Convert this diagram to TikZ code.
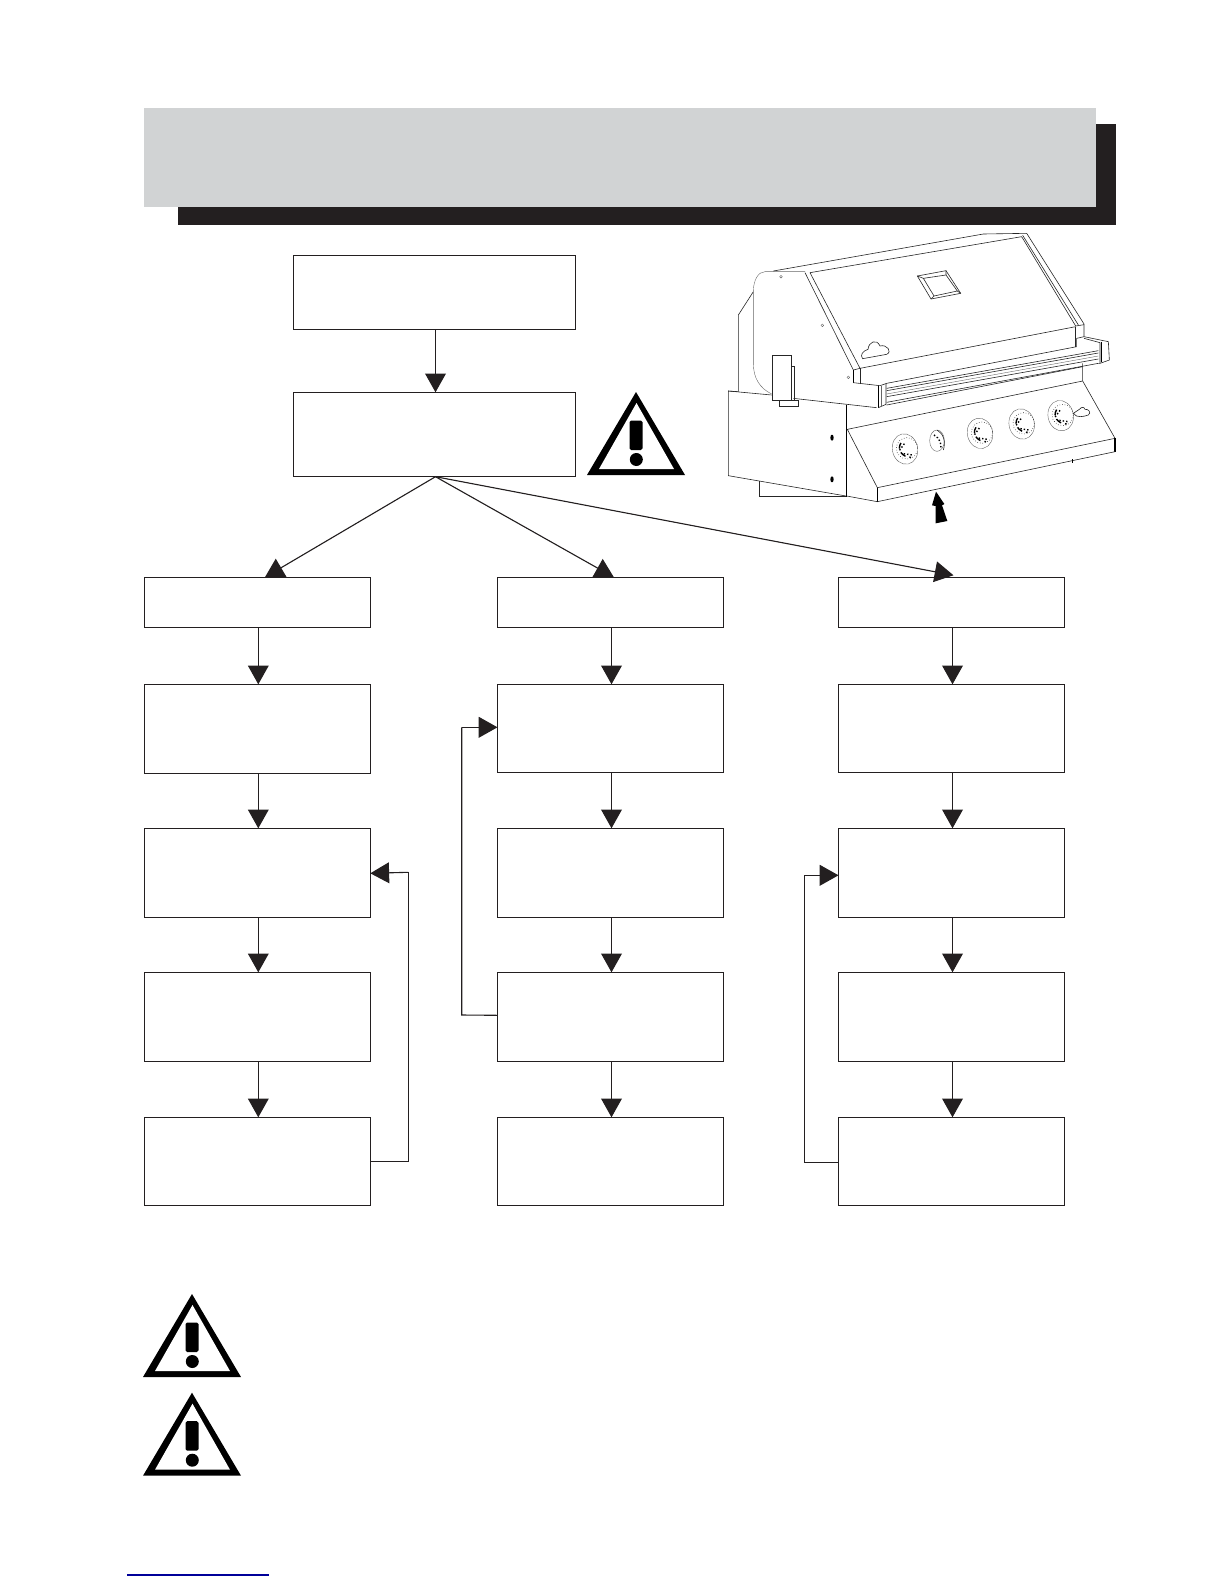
\documentclass[tikz,border=0pt]{standalone}
\usepackage{xcolor}
\usetikzlibrary{positioning, arrows.meta}

\definecolor{inkblack}{HTML}{231F20}
\definecolor{bannergray}{HTML}{D1D3D4}
\definecolor{linkblue}{HTML}{000099}

\begin{document}
\begin{tikzpicture}[
    x=0.5pt, y=-0.5pt,
    >={Triangle[length=9.4pt, width=10.4pt]},
    stepbox/.style={draw=inkblack, line width=0.55pt, rectangle, inner sep=0pt, outer sep=0pt, minimum width=113pt},
    smallbox/.style={stepbox, minimum height=25pt},
    tallbox/.style={stepbox, minimum height=44.5pt},
    headbox/.style={draw=inkblack, line width=0.55pt, rectangle, inner sep=0pt, outer sep=0pt, minimum width=141.2pt},
    arr/.style={->, draw=inkblack, fill=inkblack, line width=0.55pt},
    loopline/.style={draw=inkblack, line width=0.55pt},
    grill/.style={line width=0.3pt, draw=black!85},
    grillfine/.style={line width=0.2pt, draw=black!60},
    grillbold/.style={line width=0.7pt, draw=black},
    warnsign/.pic={
        \fill[black] (0,0) -- (49,83) -- (-49,83) -- cycle;
        \fill[white] (0.5,11) -- (38,77) -- (-37,77) -- cycle;
        \fill[black, rounded corners=0.8pt] (-6.5,28.5) rectangle (6.5,58);
        \fill[black] (0.3,67.5) circle (6.5);
    }
]
\useasboundingbox (0,0) rectangle (1224,1584);

% Banner with its shadow
\fill[inkblack] (178,124) rectangle (1116,225);
\fill[bannergray] (144,108) rectangle (1096,206.7);

% Two boxes on top
\node[headbox, minimum height=37pt] (start) at (434.5,292.3) {};
\node[headbox, minimum height=42.2pt] (check) at (434.5,434.5) {};

% Left column
\node[smallbox] (a1) at (257.3,602.3) {};
\node[tallbox] (a2) at (257.3,728.8) {};
\node[tallbox] (a3) at (257.3,872.8) {};
\node[tallbox] (a4) at (257.3,1016.8) {};
\node[tallbox, minimum height=44pt] (a5) at (257.3,1161.3) {};

% Middle column
\node[smallbox] (b1) at (610.5,602.3) {};
\node[tallbox, minimum height=44pt] (b2) at (610.5,728.3) {};
\node[tallbox] (b3) at (610.5,872.8) {};
\node[tallbox] (b4) at (610.5,1016.8) {};
\node[tallbox, minimum height=44pt] (b5) at (610.5,1161.3) {};

% Right column
\node[smallbox] (c1) at (951.5,602.3) {};
\node[tallbox, minimum height=44pt] (c2) at (951.5,728.3) {};
\node[tallbox] (c3) at (951.5,872.8) {};
\node[tallbox] (c4) at (951.5,1016.8) {};
\node[tallbox, minimum height=44pt] (c5) at (951.5,1161.3) {};

% Straight arrows
\draw[arr] ([xshift=0.5pt]start.south) -- ([xshift=0.5pt]check.north);
\foreach \col in {a,b,c} {
    \draw[arr] ([xshift=0.5pt]\col1.south) -- ([xshift=0.5pt]\col2.north);
    \draw[arr] ([xshift=0.5pt]\col2.south) -- ([xshift=0.5pt]\col3.north);
    \draw[arr] ([xshift=0.5pt]\col3.south) -- ([xshift=0.5pt]\col4.north);
    \draw[arr] ([xshift=0.5pt]\col4.south) -- ([xshift=0.5pt]\col5.north);
}

% Arrows that fan out of the second box
\draw[arr] ([xshift=0.5pt]check.south) -- ([xshift=3.8pt]a1.north);
\draw[arr] ([xshift=0.5pt]check.south) -- ([xshift=1.7pt]b1.north);
\draw[arr] ([xshift=0.5pt]check.south) -- ([xshift=1pt, yshift=1pt]c1.north);

% Loops back up
\coordinate (aout) at ([yshift=0pt]a5.east);
\coordinate (ain) at ([yshift=-0.25pt]a3.east);
\coordinate (bout) at ([yshift=0.75pt]b4.west);
\coordinate (bin) at ([yshift=0.5pt]b2.west);
\coordinate (cout) at ([yshift=-0.5pt]c5.west);
\coordinate (cin) at ([yshift=-1.25pt]c3.west);
\draw[loopline] (aout) -- (408.3,1161.3) -- (408.3,872.3);
\draw[arr] (408.3,872.3) -- (ain);
\draw[loopline] (bout) -- (461.7,1015) -- (461.7,727.3);
\draw[arr] (461.7,727.3) -- (bin);
\draw[loopline] (cout) -- (804.7,1162.3) -- (804.7,875.3);
\draw[arr] (804.7,875.3) -- (cin);

% Warning signs
\pic at (636,392) {warnsign};
\pic at (192,1294) {warnsign};
\pic at (192,1392.7) {warnsign};

% Link line at the bottom
\draw[linkblue, line width=0.55pt] (127,1575) -- (269,1575);

% Grill, traced in the coordinates of a 3x crop
\begin{scope}[shift={(710,220)}, x=0.16667pt, y=-0.16667pt]
    % lid
    \draw[grill] (85,515) -- (85,285) -- (130,215);
    \draw[grillfine] (130,215) .. controls (130,180) and (145,155) .. (165,155) -- (285,155);
    \draw[grillfine] (130,215) -- (130,430) .. controls (130,475) and (150,505) .. (185,522);
    \draw[grill] (190,153) -- (820,42) -- (950,40) -- (1122,312) -- (1122,350);
    \draw[grill] (300,158) -- (935,50) -- (1097,318);
    \draw[grill] (285,158) -- (430,450);
    \draw[grill] (300,158) -- (450,445) -- (1097,320);
    \draw[grill] (938,46) -- (1105,315);
    \draw[grill] (1097,318) -- (1122,314);
    \draw[grill] (1097,320) -- (1097,380);
    \draw[grill] (430,450) -- (450,445);
    \draw[grillbold] (430,450) -- (430,488);
    \draw[grill] (450,445) -- (450,488);
    % vent on the lid
    \draw[grill] (622,168) -- (708,152) -- (752,220) -- (663,237) -- cycle;
    \draw[grill] (640,175) -- (708,165) -- (742,213) -- (672,228) -- cycle;
    \draw[grill] (622,168) -- (640,175) (708,152) -- (708,165) (752,220) -- (742,213) (663,237) -- (672,228);
    % badge on the lid
    \draw[grill] (458,416) .. controls (448,405) and (460,392) .. (474,388) .. controls (476,365) and (500,355) .. (510,378) .. controls (530,372) and (548,395) .. (530,403) -- cycle;
    % screws
    \foreach \sx/\sy in {213/170, 337/316, 415/472} {
        \draw[grillfine] (\sx,\sy) circle (4);
    }
    % handle
    \draw[grill] (430,488) -- (510,497) -- (530,490) -- (1100,380);
    \draw[grillbold] (505,497) -- (505,563);
    \draw[grill] (528,490) -- (528,553) -- (505,563);
    \draw[grill] (530,505) -- (1165,392);
    \draw[grill] (530,512) -- (1165,399);
    \draw[grillfine] (530,522) -- (1165,408);
    \draw[grill] (530,530) -- (1165,417);
    \draw[grill] (530,547) -- (1165,430);
    \draw[grillfine] (515,497) -- (515,560);
    % handle bracket on the right
    \draw[grill] (1100,380) -- (1100,355) -- (1122,350) -- (1195,365) -- (1198,420) -- (1170,430) -- (1165,430);
    \draw[grill] (1170,430) -- (1170,368) -- (1122,355);
    \draw[grillbold] (1175,366) -- (1175,425);
    % side box
    \draw[grill] (85,515) -- (55,513) -- (55,767) -- (408,828);
    \draw[grill] (55,513) -- (185,525);
    \draw[grill] (250,535) -- (500,563);
    \draw[grillbold] (410,555) -- (410,830);
    \draw[grill] (148,783) -- (148,828) -- (408,828);
    \fill[black] (366,653) ellipse (5 and 9) (366,778) ellipse (5 and 9);
    % hinge plate
    \draw[grill, fill=white] (187,405) -- (245,405) -- (245,540) -- (187,540) -- cycle;
    \draw[grill] (245,440) -- (254,440) -- (254,540);
    \draw[grill] (207,540) -- (207,558) -- (265,558) -- (265,540) -- (245,540);
    % front panel
    \draw[grill] (1118,430) -- (1118,483) -- (412,628) -- (502,803) -- (1215,655) -- (1118,483);
    \draw[grillbold] (1215,655) -- (1215,695);
    \draw[grill] (1215,695) -- (502,845) -- (502,803);
    \draw[grillbold] (502,803) -- (502,845);
    \draw[grill] (410,828) -- (502,845);
    \draw[grill] (530,555) -- (1118,440);
    \draw[grillbold] (1088,718) -- (1088,728);
    % knobs
    \foreach \kx/\ky in {585/687, 810/640, 935/612, 1052/587} {
        \draw[grillfine, rotate around={12:(\kx,\ky)}] (\kx,\ky) ellipse (38 and 46);
        \draw[grill, densely dotted] (\kx+6,\ky-2) circle (32);
        \draw[grillbold, densely dashed] (\kx-12,\ky-18) .. controls (\kx-25,\ky) and (\kx-10,\ky+25) .. (\kx+18,\ky+25);
        \draw[grillbold, densely dotted] (\kx-2,\ky-16) -- (\kx-18,\ky+6) (\kx-4,\ky+14) -- (\kx+22,\ky+18);
    }
    % small igniter knob
    \draw[grillfine] (681,662) ellipse (22 and 32);
    \draw[grill] (681,630) .. controls (700,640) and (708,665) .. (700,690);
    \draw[grillbold, densely dotted] (672,645) .. controls (690,655) and (695,672) .. (692,688);
    % small badge beside the last knob
    \draw[grill] (1090,580) -- (1108,568) .. controls (1115,560) and (1122,560) .. (1125,568) .. controls (1135,566) and (1145,578) .. (1135,585) .. controls (1120,590) and (1100,595) .. (1090,580);
    % arrow under the panel
    \fill[black] (678,815) -- (703,852) -- (696,856) -- (712,903) -- (677,910) -- (677,858) -- (666,856) -- cycle;
\end{scope}
\end{tikzpicture}
\end{document}
